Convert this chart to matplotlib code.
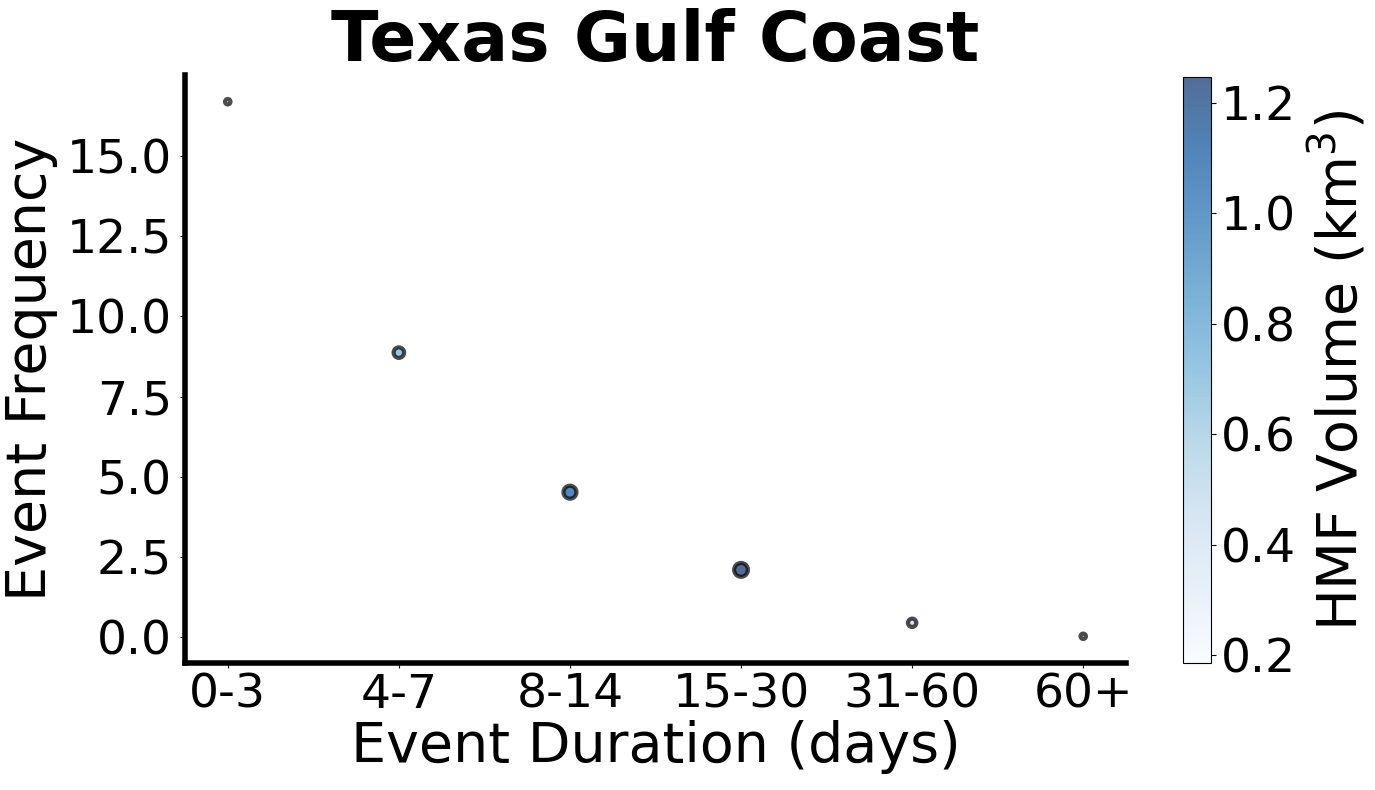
"""Texas Gulf Coast: event frequency vs. duration, coloured by HMF volume."""
import matplotlib
matplotlib.use("Agg")
import matplotlib.pyplot as plt
import numpy as np

# data
duration_bins = ["0-3", "4-7", "8-14", "15-30", "31-60", "60+"]
event_frequency = [16.69, 8.87, 4.52, 2.10, 0.45, 0.03]
hmf_volume = [0.19, 0.72, 1.10, 1.247, 0.45, 0.186]
freq_ticks = [0.0, 2.5, 5.0, 7.5, 10.0, 12.5, 15.0]
volume_ticks = [0.2, 0.4, 0.6, 0.8, 1.0, 1.2]

fig = plt.figure(figsize=(13.75, 7.9), dpi=100)
ax = fig.add_axes([185 / 1375, 127 / 790, 941 / 1375, 588 / 790])
cax = fig.add_axes([1183 / 1375, 127 / 790, 28 / 1375, 586 / 790])

x = np.arange(len(duration_bins))
sc = ax.scatter(x, event_frequency, c=hmf_volume, s=np.array(hmf_volume) * 80,
                cmap="Blues", alpha=0.7, edgecolors="black", linewidths=3)

ax.set_xticks(x)
ax.set_xticklabels(duration_bins)
ax.set_yticks(freq_ticks)
ax.tick_params(labelsize=34)
ax.tick_params(axis="y", pad=6)
ax.set_xlabel("Event Duration (days)", fontsize=40, labelpad=2)
ax.set_ylabel("Event Frequency", fontsize=40, labelpad=6)
ax.set_title("Texas Gulf Coast", fontsize=50, fontweight="bold", pad=8)

for side in ("top", "right"):
    ax.spines[side].set_visible(False)
for side in ("left", "bottom"):
    ax.spines[side].set_linewidth(4)

cbar = fig.colorbar(sc, cax=cax)
cbar.set_ticks(volume_ticks)
cbar.ax.tick_params(labelsize=34)
cbar.set_label("HMF Volume (km$^3$)", fontsize=40, labelpad=8)

fig.savefig("out.png", dpi=100)
plt.close(fig)
